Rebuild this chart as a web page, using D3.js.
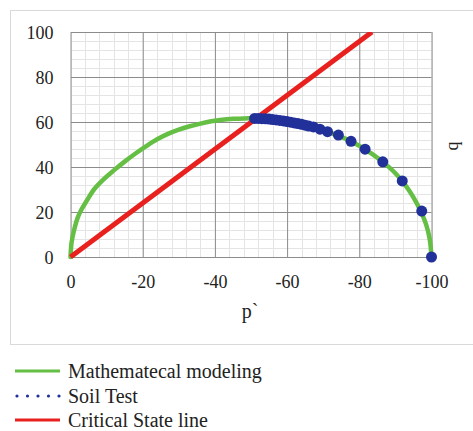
<!DOCTYPE html>
<html>
<head>
<meta charset="utf-8">
<script src="https://cdn.jsdelivr.net/npm/d3@7/dist/d3.min.js"></script>
<style>
  html, body { margin: 0; padding: 0; background: #fff; }
  svg { display: block; }
  text { font-family: "Liberation Serif", "Times New Roman", serif; fill: #222; }
</style>
</head>
<body>
<svg id="chart" width="473" height="431"></svg>
<script>
// ---- data ----
const modelP = [0, -0.3, -1, -2, -3, -4.5, -6.5, -9, -12, -15, -18, -21, -24, -27, -30, -33, -36, -39, -42, -45, -48, -51, -54, -57, -60, -63, -66, -69, -72, -75, -78, -81, -84, -87, -90, -93, -95, -97, -98.5, -99.5, -100];
const modelQ = [0, 6.5, 12, 17.5, 21, 25, 30, 34.3, 38.5, 42.4, 46, 49.3, 52.3, 54.7, 56.6, 58.1, 59.3, 60.3, 61, 61.4, 61.6, 61.6, 61.4, 60.9, 60.2, 59.3, 58.2, 56.8, 55.2, 53.4, 51.2, 48.4, 45.3, 41.6, 37.2, 31.4, 26.5, 20.4, 14.5, 8, 0];

const testP = [-51, -52, -53, -54, -55, -56, -57, -58, -59, -60, -61, -62, -63, -64, -65, -66, -67.3, -69.1, -71.2, -74.2, -77.7, -81.6, -86.5, -91.9, -97.3, -100];
const testQ = [61.6, 61.6, 61.5, 61.4, 61.3, 61.1, 60.9, 60.7, 60.5, 60.2, 59.9, 59.6, 59.3, 59.0, 58.6, 58.2, 57.8, 56.8, 55.7, 54.2, 51.4, 47.9, 42.3, 33.8, 20.4, 0];

const cslP = [0, -83.5];
const cslQ = [0, 100];

const xTicks = [0, -20, -40, -60, -80, -100];
const yTicks = [0, 20, 40, 60, 80, 100];
const legendLabels = ["Mathematecal modeling", "Soil Test", "Critical State line"];
const xTitle = "p`";
const yTitle = "q";

// ---- drawing ----
const svg = d3.select("#chart");
const x = d3.scaleLinear().domain([0, -100]).range([70.5, 431.5]);
const y = d3.scaleLinear().domain([0, 100]).range([257, 32]);
const fontFam = '"Liberation Serif", "Times New Roman", serif';

// outer chart border
svg.append("rect").attr("x", 10.5).attr("y", 10.5).attr("width", 480).attr("height", 334)
  .attr("fill", "#fff").attr("stroke", "#d9d9d9").attr("stroke-width", 1);

const grid = svg.append("g");
const minorX = d3.range(0, -101, -4);
const minorY = d3.range(0, 101, 4);
grid.selectAll(".mx").data(minorX).enter().append("line")
  .attr("x1", d => Math.round(x(d)) + 0.5).attr("x2", d => Math.round(x(d)) + 0.5)
  .attr("y1", y(0)).attr("y2", y(100)).attr("stroke", "#e4e4e4").attr("stroke-width", 1);
grid.selectAll(".my").data(minorY).enter().append("line")
  .attr("y1", d => Math.round(y(d)) + 0.5).attr("y2", d => Math.round(y(d)) + 0.5)
  .attr("x1", x(0)).attr("x2", x(-100)).attr("stroke", "#e4e4e4").attr("stroke-width", 1);

// major grid via axes
const xAxis = d3.axisBottom(x).tickValues(xTicks).tickSize(-(y(0) - y(100))).tickFormat(d => String(d));
const gx = svg.append("g").attr("transform", `translate(0,${y(0)})`).call(xAxis);
gx.select(".domain").remove();
gx.selectAll(".tick line").attr("stroke", "#8c8c8c").attr("stroke-width", 1);
gx.selectAll(".tick text").attr("dy", "0").attr("y", 31).attr("font-size", 18)
  .style("font-family", fontFam).attr("fill", "#222");

const yAxis = d3.axisLeft(y).tickValues(yTicks).tickSize(-(x(-100) - x(0))).tickFormat(d => String(d));
const gy = svg.append("g").attr("transform", `translate(${x(0)},0)`).call(yAxis);
gy.select(".domain").remove();
gy.selectAll(".tick line").attr("stroke", "#8c8c8c").attr("stroke-width", 1);
gy.selectAll(".tick text").attr("x", -17).attr("dy", "0.35em").attr("font-size", 18)
  .style("font-family", fontFam).attr("fill", "#222");

// left edge light
svg.append("line").attr("x1", x(0)).attr("x2", x(0)).attr("y1", y(0)).attr("y2", y(100))
  .attr("stroke", "#c8c8c8");

// clip for plot
svg.append("clipPath").attr("id", "plotclip").append("rect")
  .attr("x", x(0) - 5).attr("y", y(100)).attr("width", x(-100) - x(0) + 10).attr("height", y(0) - y(100) + 5);

const plot = svg.append("g").attr("clip-path", "url(#plotclip)");

const modelData = modelP.map((p, i) => [p, modelQ[i]]);
plot.append("path").datum(modelData)
  .attr("d", d3.line().x(d => x(d[0])).y(d => y(d[1])).curve(d3.curveCatmullRom.alpha(0.5)))
  .attr("fill", "none").attr("stroke", "#66bf45").attr("stroke-width", 4.5).attr("stroke-linecap", "round");

const cslData = cslP.map((p, i) => [p, cslQ[i]]);
plot.append("path").datum(cslData).attr("d", d3.line().x(d => x(d[0])).y(d => y(d[1])))
  .attr("fill", "none").attr("stroke", "#e8211f").attr("stroke-width", 5);

const testData = testP.map((p, i) => [p, testQ[i]]);
svg.append("g").selectAll("circle").data(testData).enter().append("circle")
  .attr("cx", d => x(d[0])).attr("cy", d => y(d[1])).attr("r", 5.5).attr("fill", "#22309a");

// axis titles
svg.append("text").attr("x", 250).attr("y", 318).attr("text-anchor", "middle").attr("font-size", 20).text(xTitle);
svg.append("text").attr("transform", "translate(452,146) rotate(-90)").attr("text-anchor", "middle")
  .attr("dy", "0.35em").attr("font-size", 18).text(yTitle);

// legend
const leg = svg.append("g");
const ly = [371, 396, 420];
leg.append("line").attr("x1", 15).attr("x2", 60).attr("y1", ly[0]).attr("y2", ly[0]).attr("stroke", "#66bf45").attr("stroke-width", 3);
leg.selectAll(".ld").data(d3.range(5)).enter().append("circle")
  .attr("cx", d => 17 + d * 10.5).attr("cy", ly[1]).attr("r", 1.6).attr("fill", "#22309a");
leg.append("line").attr("x1", 15).attr("x2", 60).attr("y1", ly[2]).attr("y2", ly[2]).attr("stroke", "#e8211f").attr("stroke-width", 3);
leg.selectAll("text.lt").data(legendLabels).enter().append("text").attr("class", "lt")
  .attr("x", 68).attr("y", (d, i) => ly[i]).attr("dy", "0.33em").attr("font-size", 20).text(d => d);
</script>
</body>
</html>
